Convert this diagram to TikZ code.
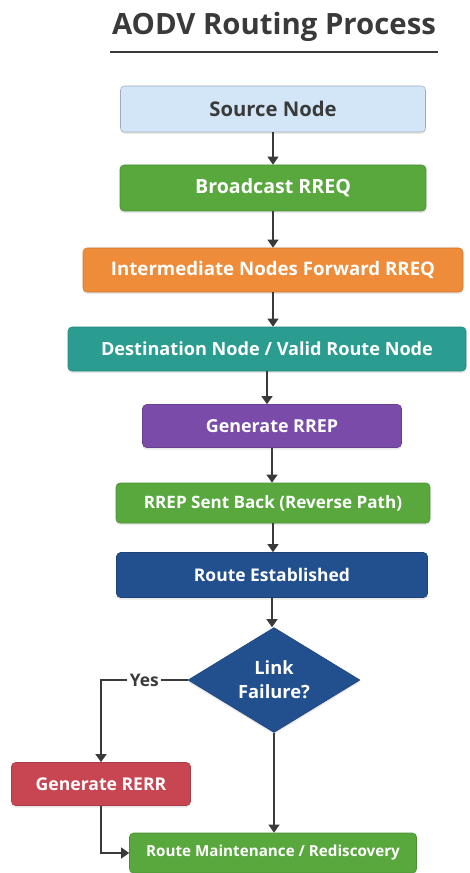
\documentclass[tikz,border=0pt]{standalone}
\usepackage{fontspec}
\setmainfont{Open Sans}
\usetikzlibrary{shapes.geometric,arrows.meta,shadows}
\definecolor{srcblue}{HTML}{D3E6F7}
\definecolor{flowgreen}{HTML}{58A83E}
\definecolor{floworange}{HTML}{EE8C3A}
\definecolor{flowteal}{HTML}{2B9C90}
\definecolor{flowpurple}{HTML}{7A4BA9}
\definecolor{flownavy}{HTML}{22508F}
\definecolor{flowred}{HTML}{C84552}
\definecolor{inkgrey}{HTML}{3A3A3A}
\begin{document}
\begin{tikzpicture}
			[x=0.75pt,y=-0.75pt,
			txt/.style={font=\bfseries\fontsize{#1}{#1}\selectfont},
			box/.style={rectangle, rounded corners=3pt, draw=#1!85!black, fill=#1, text=white,
				txt=12.5, minimum height=33pt, inner sep=2pt,
				drop shadow={shadow xshift=0pt, shadow yshift=-1.5pt, opacity=0.18}},
			link/.style={draw=inkgrey, line width=1.5pt, -{Triangle[width=8pt,length=6pt]}}]
			\useasboundingbox (0,0) rectangle (470,873);
			\node[text=inkgrey, txt=22] (title) at (274,27) {AODV Routing Process};
			\draw[inkgrey, line width=1pt] (110,52) -- (438,52);
			
			\node[box=srcblue, text=inkgrey, draw=srcblue!75!black, txt=15.2, minimum width=228.75pt, minimum height=34.5pt] (n1) at (273,109) {Source Node};
			\node[box=flowgreen, txt=14.7, minimum width=229.5pt, minimum height=34.5pt] (n2) at (273,188) {Broadcast RREQ};
			\node[box=floworange, txt=14, minimum width=285pt] (n3) at (273,270) {Intermediate Nodes Forward RREQ};
			\node[box=flowteal, txt=13.6, minimum width=298.5pt] (n4) at (267,349) {Destination Node / Valid Route Node};
			\node[box=flowpurple, txt=13.4, minimum width=194.25pt, minimum height=32.25pt] (n5) at (272,426) {Generate RREP};
			\node[box=flowgreen, txt=12.8, minimum width=235.5pt, minimum height=30pt] (n6) at (273,503) {RREP Sent Back (Reverse Path)};
			\node[box=flownavy, txt=13.1, minimum width=233.25pt, minimum height=33.75pt] (n7) at (272,575) {Route Established};
			\node[box=flownavy, shape=diamond, rounded corners=0pt, aspect=1.64, inner sep=0pt, align=center,
				font=\bfseries\fontsize{13.7}{18}\selectfont, minimum width=129pt, minimum height=78.75pt] (n8) at (274,680) {Link\\Failure?};
			\node[box=flowred, txt=13.2, minimum width=134.25pt, minimum height=32.25pt] (n9) at (101,784) {Generate RERR};
			\node[box=flowgreen, txt=11.4, minimum width=215.25pt, minimum height=30pt] (n10) at (273,853) {Route Maintenance / Rediscovery};
			\coordinate (yes) at (101,680);
			
			\foreach \from/\to in {n1/n2,n2/n3,n3/n4,n4/n5,n5/n6,n6/n7,n7/n8,n8/n10}
			\draw[link] (\from) -- (\from |- \to.north);
			\draw[link] (n8.west) -- node[fill=white, text=inkgrey, txt=13, inner sep=2pt] {Yes} (yes) -- (n9.north);
			\draw[link] (n9.south) |- (n10.west);
			\end{tikzpicture}
\end{document}
